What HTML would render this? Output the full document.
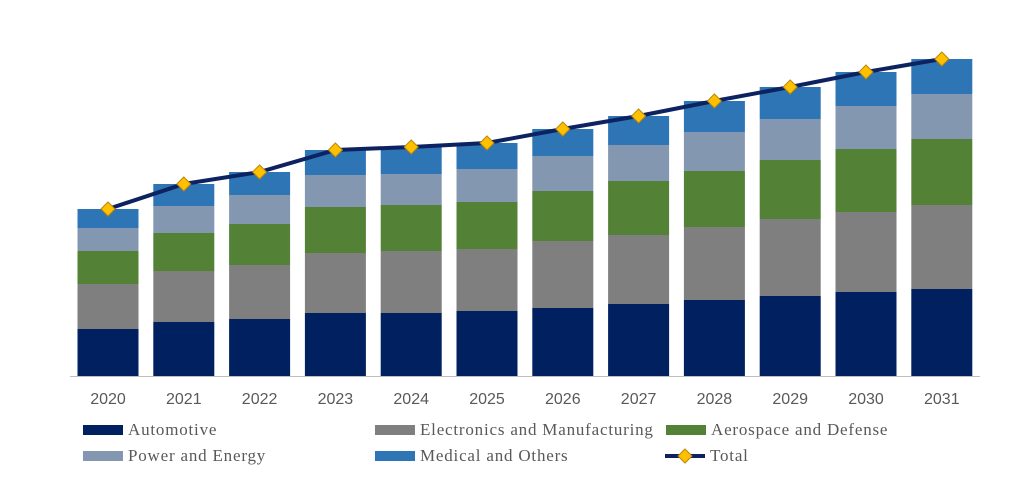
<!DOCTYPE html>
<html><head><meta charset="utf-8"><style>
body{margin:0;background:#fff;width:1015px;height:479px;overflow:hidden}
#xlabels text{font-family:"Liberation Sans",sans-serif}
#legend text{font-family:"Liberation Serif",serif;letter-spacing:0.8px}
</style></head><body>
<svg id="chart" width="1015" height="479" viewBox="0 0 1015 479" xmlns="http://www.w3.org/2000/svg">
<g id="bars"></g>
<line x1="70" y1="376.5" x2="980" y2="376.5" stroke="#bfbfbf" stroke-width="1"/>
<g id="xlabels"></g>
<g id="line"></g>
<g id="legend" font-size="17" fill="#595959"></g>
</svg>
<script>
const years=["2020","2021","2022","2023","2024","2025","2026","2027","2028","2029","2030","2031"];
const automotive=[47,54,57,63,63,65,68,72,76,80,84,87];
const electronics=[45,51,54,60,62,62,67,69,73,77,80,84];
const aerospace=[33,38,41,46,46,47,50,54,56,59,63,66];
const power=[23,27,29,32,31,33,35,36,39,41,43,45];
const medical=[19,22,23,25,27,26,27,29,31,32,34,35];
const seriesNames=["Automotive","Electronics and Manufacturing","Aerospace and Defense","Power and Energy","Medical and Others"];
const colors=["#002060","#7f7f7f","#538135","#8497b0","#2e75b6"];
const series=[automotive,electronics,aerospace,power,medical];
const NS="http://www.w3.org/2000/svg";
const base=376, x0=108, step=75.8, bw=61, scale=1;
const xs=i=>x0+i*step;
const ys=v=>base-v*scale;
const bars=document.getElementById('bars');
const totals=[];
years.forEach((y,i)=>{
  let cum=0;
  series.forEach((s,k)=>{
    const r=document.createElementNS(NS,'rect');
    r.setAttribute('x',xs(i)-bw/2);r.setAttribute('width',bw);
    r.setAttribute('y',ys(cum+s[i]));r.setAttribute('height',s[i]*scale);
    r.setAttribute('fill',colors[k]);
    
    
    bars.appendChild(r);cum+=s[i];
  });
  totals.push(cum);
  const t=document.createElementNS(NS,'text');
  t.setAttribute('x',xs(i));t.setAttribute('y',404);t.setAttribute('text-anchor','middle');
  t.setAttribute('font-size','16');t.setAttribute('fill','#595959');t.textContent=y;
  
  
  document.getElementById('xlabels').appendChild(t);
});
const lg=document.getElementById('line');
const pl=document.createElementNS(NS,'polyline');
pl.setAttribute('points',totals.map((v,i)=>xs(i)+','+ys(v)).join(' '));
pl.setAttribute('fill','none');pl.setAttribute('stroke','#0d2260');pl.setAttribute('stroke-width','4');


lg.appendChild(pl);
function diamond(cx,cy,parent,name){
  const d=document.createElementNS(NS,'polygon');
  d.setAttribute('points',`${cx},${cy-7} ${cx+7},${cy} ${cx},${cy+7} ${cx-7},${cy}`);
  d.setAttribute('fill','#ffc000');d.setAttribute('stroke','#b8860b');d.setAttribute('stroke-width','1');
  
  
  parent.appendChild(d);
}
totals.forEach((v,i)=>diamond(xs(i),ys(v),lg,'total-marker-'+years[i]));
const leg=document.getElementById('legend');
const pos=[[83,430],[375,430],[666,430],[83,456],[375,456]];
seriesNames.forEach((n,k)=>{
  const g=document.createElementNS(NS,'g');
  
  
  const r=document.createElementNS(NS,'rect');
  r.setAttribute('x',pos[k][0]);r.setAttribute('y',pos[k][1]-5);r.setAttribute('width',40);r.setAttribute('height',10);r.setAttribute('fill',colors[k]);
  const t=document.createElementNS(NS,'text');
  t.setAttribute('x',pos[k][0]+45);t.setAttribute('y',pos[k][1]+5);t.textContent=n;
  g.appendChild(r);g.appendChild(t);leg.appendChild(g);
});
const gt=document.createElementNS(NS,'g');


const ln=document.createElementNS(NS,'line');
ln.setAttribute('x1',665);ln.setAttribute('x2',705);ln.setAttribute('y1',456);ln.setAttribute('y2',456);
ln.setAttribute('stroke','#0d2260');ln.setAttribute('stroke-width','4');
gt.appendChild(ln);
diamond(685,456,gt,'legend-total-marker');
const tt=document.createElementNS(NS,'text');
tt.setAttribute('x',710);tt.setAttribute('y',461);tt.textContent='Total';
gt.appendChild(tt);leg.appendChild(gt);
</script>
</body></html>
